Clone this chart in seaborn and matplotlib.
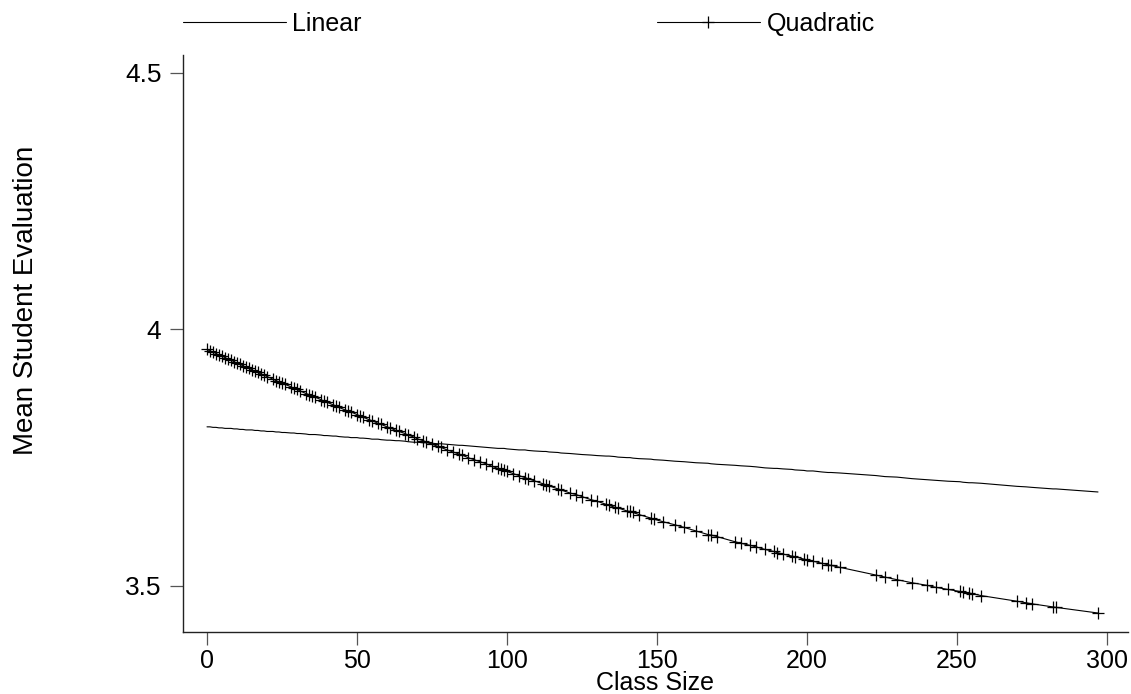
import pandas as pd
import matplotlib
matplotlib.use("Agg")
import matplotlib.pyplot as plt
import seaborn as sns

# class sizes (x) and fitted mean evaluations
class_size = [0, 1, 2, 3, 4, 5, 6, 7, 8, 9, 10, 11, 12, 13, 14, 15, 16, 17, 18, 19, 20,
              22, 23, 24, 25, 26, 28, 29, 30, 31, 33, 34, 35, 36, 38, 39, 40, 42, 43, 44,
              46, 47, 48, 50, 51, 52, 54, 55, 57, 58, 60, 61, 63, 64, 66, 67, 69, 70, 72,
              73, 75, 77, 78, 80, 82, 84, 85, 87, 89, 91, 93, 95, 97, 98, 99, 100, 102,
              104, 106, 107, 109, 112, 113, 114, 117, 118, 121, 123, 125, 128, 130, 133,
              134, 136, 137, 140, 141, 142, 144, 148, 149, 152, 156, 159, 163, 167, 168,
              170, 176, 178, 181, 183, 186, 189, 190, 192, 195, 196, 199, 200, 202, 205,
              207, 208, 211, 223, 226, 230, 235, 240, 243, 247, 251, 252, 254, 255, 258,
              270, 273, 275, 282, 283, 297]

linear_fit = [3.810, 3.810, 3.809, 3.809, 3.808, 3.808, 3.807, 3.807, 3.807, 3.806, 3.806,
              3.805, 3.805, 3.804, 3.804, 3.804, 3.803, 3.803, 3.802, 3.802, 3.801,
              3.801, 3.800, 3.800, 3.799, 3.799, 3.798, 3.798, 3.797, 3.797, 3.796, 3.795,
              3.795, 3.795, 3.794, 3.793, 3.793, 3.792, 3.792, 3.791,
              3.790, 3.790, 3.789, 3.789, 3.788, 3.788, 3.787, 3.786, 3.786, 3.785, 3.784,
              3.784, 3.783, 3.783, 3.782, 3.781, 3.780, 3.780, 3.779,
              3.779, 3.778, 3.777, 3.777, 3.776, 3.775, 3.774, 3.774, 3.773, 3.772, 3.771,
              3.770, 3.769, 3.768, 3.768, 3.768, 3.767, 3.766,
              3.765, 3.765, 3.764, 3.763, 3.762, 3.762, 3.761, 3.760, 3.759, 3.758, 3.757,
              3.756, 3.755, 3.754, 3.753,
              3.753, 3.752, 3.751, 3.750, 3.750, 3.749, 3.748, 3.747, 3.746, 3.745, 3.743,
              3.742, 3.740, 3.739, 3.738,
              3.737, 3.735, 3.734, 3.733, 3.732, 3.730, 3.729, 3.729, 3.728, 3.727, 3.726,
              3.725, 3.724, 3.724, 3.722,
              3.721, 3.721, 3.720, 3.715, 3.713, 3.712, 3.709, 3.707, 3.706, 3.704, 3.703,
              3.702, 3.701, 3.701, 3.700,
              3.694, 3.693, 3.692, 3.689, 3.689, 3.683]

quadratic_fit = [3.961, 3.958, 3.956, 3.953, 3.950, 3.948, 3.945, 3.942, 3.940, 3.937, 3.934,
                 3.932, 3.929, 3.926, 3.924, 3.921, 3.918, 3.916, 3.913, 3.911, 3.908,
                 3.903, 3.900, 3.898, 3.895, 3.893, 3.888, 3.885, 3.883, 3.880, 3.875, 3.873,
                 3.870, 3.868, 3.863, 3.860, 3.858, 3.853, 3.851, 3.848,
                 3.843, 3.841, 3.839, 3.834, 3.831, 3.829, 3.824, 3.822, 3.817, 3.815, 3.810,
                 3.808, 3.803, 3.801, 3.797, 3.794, 3.790, 3.787, 3.783,
                 3.781, 3.776, 3.772, 3.770, 3.765, 3.761, 3.757, 3.755, 3.750, 3.746, 3.742,
                 3.738, 3.733, 3.729, 3.727, 3.725, 3.723, 3.719,
                 3.715, 3.711, 3.709, 3.705, 3.699, 3.697, 3.695, 3.689, 3.687, 3.681, 3.678,
                 3.674, 3.668, 3.665, 3.659,
                 3.657, 3.653, 3.652, 3.646, 3.645, 3.643, 3.639, 3.632, 3.630, 3.625, 3.619,
                 3.614, 3.607, 3.600, 3.599,
                 3.596, 3.586, 3.583, 3.579, 3.576, 3.571, 3.567, 3.565, 3.562, 3.558, 3.557,
                 3.552, 3.551, 3.548, 3.544,
                 3.541, 3.540, 3.536, 3.521, 3.517, 3.512, 3.506, 3.501, 3.497, 3.493, 3.489,
                 3.488, 3.486, 3.485, 3.481,
                 3.470, 3.467, 3.465, 3.459, 3.458, 3.447]

x_ticks = [0, 50, 100, 150, 200, 250, 300]
y_ticks = [3.5, 4, 4.5]
y_tick_labels = ["3.5", "4", "4.5"]

df = pd.DataFrame({"Class Size": class_size, "Linear": linear_fit, "Quadratic": quadratic_fit})

sns.set_style("white")
plt.rcParams["font.family"] = ["Liberation Sans", "DejaVu Sans"]
plt.rcParams["text.color"] = "black"
plt.rcParams["axes.labelcolor"] = "black"

fig = plt.figure(figsize=(11.31, 6.94), dpi=100)
ax = fig.add_axes([183 / 1131, 62 / 694, 945 / 1131, 577 / 694])

sns.lineplot(data=df, x="Class Size", y="Linear", ax=ax, color="black",
             linewidth=0.8, label="Linear")
sns.lineplot(data=df, x="Class Size", y="Quadratic", ax=ax, color="black",
             linewidth=0.8, marker="+", markersize=8, markeredgewidth=0.9,
             markeredgecolor="black", label="Quadratic")

ax.set_xlim(-8, 307)
ax.set_ylim(3.41, 4.535)
ax.set_xticks(x_ticks)
ax.set_yticks(y_ticks)
ax.set_yticklabels(y_tick_labels)

for side in ["top", "right"]:
    ax.spines[side].set_visible(False)
for side in ["left", "bottom"]:
    ax.spines[side].set_color("#222222")
    ax.spines[side].set_linewidth(1.0)

ax.tick_params(axis="both", direction="out", length=9.5, width=0.9, color="#555555",
               labelcolor="black", bottom=True, left=True)
ax.tick_params(axis="x", pad=3, labelsize=18)
ax.tick_params(axis="y", pad=6, labelsize=19)

ax.set_xlabel("Class Size", fontsize=18, labelpad=-2)
ax.set_ylabel("Mean Student Evaluation", fontsize=20)
ax.yaxis.set_label_coords(-0.152, 0.575)

handles, labels = ax.get_legend_handles_labels()
ax.get_legend().remove()
fig.legend(handles, labels, loc="center left", bbox_to_anchor=(183 / 1131, 1 - 24 / 694),
           ncol=2, frameon=False, fontsize=18, handlelength=4.1, handletextpad=0.28,
           columnspacing=11.8, borderpad=0, borderaxespad=0)

fig.savefig("out.png", dpi=100)
